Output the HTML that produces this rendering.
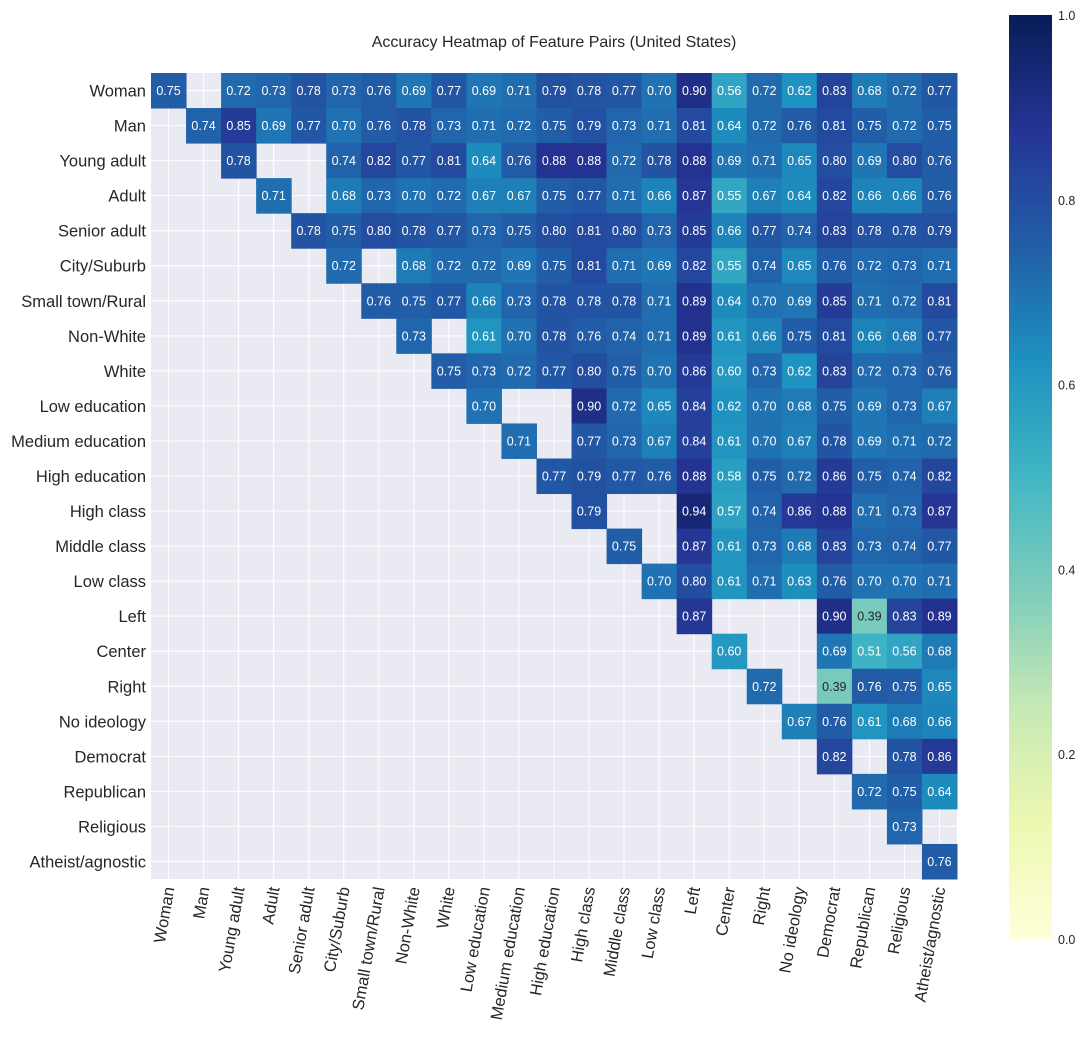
<!DOCTYPE html>
<html><head><meta charset="utf-8"><style>
body{margin:0;background:#fff;font-family:"Liberation Sans",sans-serif}
svg text{font-family:"Liberation Sans",sans-serif}
</style></head><body>
<svg id="c" width="1088" height="1032"></svg>
<script>
const labels=["Woman","Man","Young adult","Adult","Senior adult","City/Suburb","Small town/Rural","Non-White","White","Low education","Medium education","High education","High class","Middle class","Low class","Left","Center","Right","No ideology","Democrat","Republican","Religious","Atheist/agnostic"];
const N=null;
const row0=[.75,N,.72,.73,.78,.73,.76,.69,.77,.69,.71,.79,.78,.77,.70,.90,.56,.72,.62,.83,.68,.72,.77];
const row1=[.74,.85,.69,.77,.70,.76,.78,.73,.71,.72,.75,.79,.73,.71,.81,.64,.72,.76,.81,.75,.72,.75];
const row2=[.78,N,N,.74,.82,.77,.81,.64,.76,.88,.88,.72,.78,.88,.69,.71,.65,.80,.69,.80,.76];
const row3=[.71,N,.68,.73,.70,.72,.67,.67,.75,.77,.71,.66,.87,.55,.67,.64,.82,.66,.66,.76];
const row4=[.78,.75,.80,.78,.77,.73,.75,.80,.81,.80,.73,.85,.66,.77,.74,.83,.78,.78,.79];
const row5=[.72,N,.68,.72,.72,.69,.75,.81,.71,.69,.82,.55,.74,.65,.76,.72,.73,.71];
const row6=[.76,.75,.77,.66,.73,.78,.78,.78,.71,.89,.64,.70,.69,.85,.71,.72,.81];
const row7=[.73,N,.61,.70,.78,.76,.74,.71,.89,.61,.66,.75,.81,.66,.68,.77];
const row8=[.75,.73,.72,.77,.80,.75,.70,.86,.60,.73,.62,.83,.72,.73,.76];
const row9=[.70,N,N,.90,.72,.65,.84,.62,.70,.68,.75,.69,.73,.67];
const row10=[.71,N,.77,.73,.67,.84,.61,.70,.67,.78,.69,.71,.72];
const row11=[.77,.79,.77,.76,.88,.58,.75,.72,.86,.75,.74,.82];
const row12=[.79,N,N,.94,.57,.74,.86,.88,.71,.73,.87];
const row13=[.75,N,.87,.61,.73,.68,.83,.73,.74,.77];
const row14=[.70,.80,.61,.71,.63,.76,.70,.70,.71];
const row15=[.87,N,N,N,.90,.39,.83,.89];
const row16=[.60,N,N,.69,.51,.56,.68];
const row17=[.72,N,.39,.76,.75,.65];
const row18=[.67,.76,.61,.68,.66];
const row19=[.82,N,.78,.86];
const row20=[.72,.75,.64];
const row21=[.73,N];
const row22=[.76];
const rows=[row0,row1,row2,row3,row4,row5,row6,row7,row8,row9,row10,row11,row12,row13,row14,row15,row16,row17,row18,row19,row20,row21,row22];
const cbTicks=[0,0.2,0.4,0.6,0.8,1.0];

const stops=["#ffffd9","#edf8b1","#c7e9b4","#7fcdbb","#41b6c4","#1d91c0","#225ea8","#253494","#081d58"];
function hex(h){return [1,3,5].map(i=>parseInt(h.substr(i,2),16));}
function cmap(v){v=Math.max(0,Math.min(1,v));const p=v*8,i=Math.min(7,Math.floor(p)),t=p-i;
 const a=hex(stops[i]),b=hex(stops[i+1]);return "rgb("+a.map((x,k)=>Math.round(x+(b[k]-x)*t)).join(",")+")";}
const svg=document.getElementById('c');const NS="http://www.w3.org/2000/svg";
function el(t,a,p){const e=document.createElementNS(NS,t);for(const k in a)e.setAttribute(k,a[k]);(p||svg).appendChild(e);return e;}
const X0=151,Y0=73,S=806/23;
const xs=i=>X0+i*S, ys=i=>Y0+i*S;
const slug=s=>String(s).toLowerCase().replace(/[^a-z]+/g,'-');
const bg=el('rect',{x:X0,y:Y0,width:806,height:806,fill:'#eaeaf2'});


for(let i=0;i<23;i++){
 el('line',{x1:xs(i)+S/2,x2:xs(i)+S/2,y1:Y0,y2:Y0+806,stroke:'#fff','stroke-width':1});
 el('line',{y1:ys(i)+S/2,y2:ys(i)+S/2,x1:X0,x2:X0+806,stroke:'#fff','stroke-width':1});
}
rows.forEach((r,i)=>{r.forEach((v,k)=>{if(v===null)return;const j=i+k;if(j>22)return;
 const g=el('g',{});
 
 
 el('rect',{x:xs(j),y:ys(i),width:S+0.5,height:S+0.5,fill:cmap(v)},g);
 const t=el('text',{x:xs(j)+S/2,y:ys(i)+S/2+4.5,'text-anchor':'middle','font-size':12.5,fill:v<0.45?'#262626':'#fff'},g);
 t.textContent=v.toFixed(2);});});
labels.forEach((l,i)=>{
 const t=el('text',{x:X0-5,y:ys(i)+S/2+6,'text-anchor':'end','font-size':16.5,fill:'#262626'});
 t.textContent=l;
 
 
 const cx=xs(i)+S/2+6,cy=Y0+815;
 const u=el('text',{x:cx,y:cy,'text-anchor':'end','font-size':16.5,fill:'#262626',transform:`rotate(-80 ${cx} ${cy})`});
 u.textContent=l;
 
 
});
const title=el('text',{x:554,y:47,'text-anchor':'middle','font-size':16,fill:'#262626'});
title.textContent="Accuracy Heatmap of Feature Pairs (United States)";


const defs=el('defs',{});const lg=el('linearGradient',{id:'g',x1:0,y1:1,x2:0,y2:0},defs);
stops.forEach((s,i)=>el('stop',{offset:i/8,'stop-color':s},lg));
const CB0=15,CB1=939;
const cb=el('rect',{x:1009,y:CB0,width:43,height:CB1-CB0,fill:'url(#g)'});


cbTicks.forEach(v=>{const y=CB1-(CB1-CB0)*v;
 const t=el('text',{x:1058,y:y+5,'font-size':12.5,fill:'#262626'});t.textContent=v.toFixed(1);
 
 });
</script>
</body></html>
